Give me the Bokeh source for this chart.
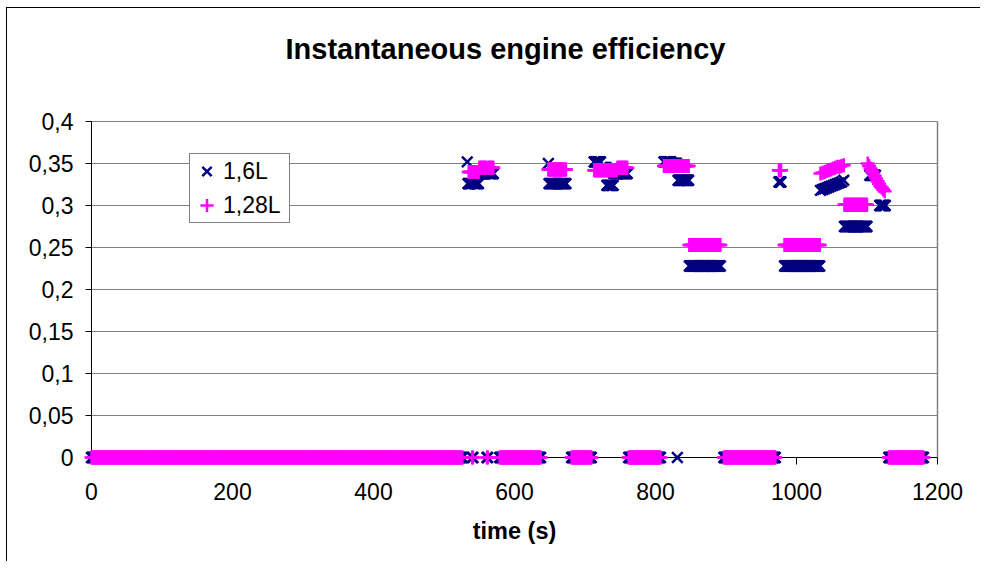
from bokeh.plotting import figure
from bokeh.models import Range1d, FixedTicker, Legend, LegendItem, Title
from bokeh.embed import file_html
from bokeh.resources import INLINE

# ---------------- chart texts ----------------
TITLE = "Instantaneous engine efficiency"
X_LABEL = "time (s)"
NAME_A = "1,6L"
NAME_B = "1,28L"

X_TICKS = [0, 200, 400, 600, 800, 1000, 1200]
X_TICK_LABELS = ["0", "200", "400", "600", "800", "1000", "1200"]
Y_TICKS = [0, 0.05, 0.1, 0.15, 0.2, 0.25, 0.3, 0.35, 0.4]
Y_TICK_LABELS = ["0", "0,05", "0,1", "0,15", "0,2", "0,25", "0,3", "0,35", "0,4"]

# ---------------- data (1 sample per second) ----------------
# runs of constant efficiency: (first second, last second, efficiency)
RUNS_A = [
    (0, 526, 0.0),
    (533, 533, 0.352),
    (534, 539, 0.326),
    (540, 541, 0.0),
    (542, 549, 0.326),
    (550, 560, 0.338),
    (561, 562, 0.0),
    (563, 570, 0.338),
    (579, 637, 0.0),
    (648, 648, 0.35),
    (649, 673, 0.326),
    (681, 709, 0.0),
    (713, 722, 0.352),
    (723, 730, 0.345),
    (731, 740, 0.324),
    (741, 760, 0.338),
    (762, 807, 0.0),
    (812, 822, 0.352),
    (823, 830, 0.35),
    (831, 831, 0.0),
    (832, 847, 0.33),
    (848, 892, 0.228),
    (897, 970, 0.0),
    (975, 978, 0.328),
    (983, 1033, 0.228),
    (1068, 1100, 0.275),
    (1104, 1112, 0.336),
    (1118, 1126, 0.30),
    (1131, 1180, 0.0),
]
RUNS_B = [
    (0, 526, 0.0),
    (535, 539, 0.34),
    (540, 541, 0.0),
    (542, 549, 0.34),
    (550, 560, 0.345),
    (561, 562, 0.0),
    (563, 570, 0.345),
    (579, 637, 0.0),
    (648, 673, 0.343),
    (681, 709, 0.0),
    (713, 745, 0.342),
    (746, 760, 0.345),
    (762, 807, 0.0),
    (812, 847, 0.347),
    (848, 892, 0.253),
    (897, 970, 0.0),
    (975, 978, 0.342),
    (983, 1033, 0.253),
    (1068, 1100, 0.301),
    (1131, 1180, 0.0),
]
# points read one by one on the sloped parts
PTS_A_T = [1034, 1037, 1040, 1043, 1046, 1049, 1052, 1055, 1058, 1061, 1064, 1067]
PTS_A_V = [0.318, 0.319, 0.320, 0.321, 0.322, 0.323, 0.324, 0.325, 0.326, 0.327, 0.328, 0.330]
PTS_B_T = [1034, 1037, 1040, 1043, 1046, 1049, 1052, 1055, 1058, 1061, 1064, 1067,
           1101, 1103, 1105, 1107, 1109, 1111, 1113, 1115, 1117, 1119, 1121, 1123, 1125]
PTS_B_V = [0.338, 0.339, 0.340, 0.341, 0.342, 0.343, 0.344, 0.345, 0.346, 0.346, 0.347, 0.348,
           0.350, 0.347, 0.344, 0.341, 0.338, 0.335, 0.332, 0.329, 0.326, 0.323, 0.321, 0.319, 0.317]


def expand(runs, pt_t, pt_v):
    pairs = []
    for first, last, val in runs:
        for s in range(first, last + 1):
            pairs.append((s, val))
    pairs += list(zip(pt_t, pt_v))
    pairs.sort()
    return [a for a, _ in pairs], [b for _, b in pairs]


tA, vA = expand(RUNS_A, PTS_A_T, PTS_A_V)
tB, vB = expand(RUNS_B, PTS_B_T, PTS_B_V)

# ---------------- layout ----------------
X0, X1 = X_TICKS[0], X_TICKS[-1]
Y0, Y1 = Y_TICKS[0], Y_TICKS[-1]
INNER_W, INNER_H = 846, 336          # plot-area size in px
PAD_L, PAD_R, PAD_B, PAD_T = 12, 12, 12, 2
SX = (X1 - X0) / INNER_W
SY = (Y1 - Y0) / INNER_H
FONT = "Liberation Sans"
GRID = "#808080"
NAVY = "#000080"
MAGENTA = "#FF00FF"
W, H = 981, 562
BL, BT = 79, 119
FW, FH = INNER_W + PAD_L + PAD_R, INNER_H + PAD_B + PAD_T

p = figure(
    frame_width=FW,
    frame_height=FH,
    x_range=Range1d(X0 - PAD_L * SX, X1 + PAD_R * SX),
    y_range=Range1d(Y0 - PAD_B * SY, Y1 + PAD_T * SY),
    output_backend="svg",
    toolbar_location=None,
    min_border_left=BL,
    min_border_right=W - BL - FW,
    min_border_top=BT,
    min_border_bottom=H - BT - FH,
    background_fill_color="white",
    border_fill_color=None,
)
# outer chart-area border (left and top edges; the others fall outside the window)
p.styles = {
    "background": "linear-gradient(#000,#000) 6px 7px / 1px 554px no-repeat, "
                  "linear-gradient(#000,#000) 6px 7px / 974px 1px no-repeat, #fff",
}
p.outline_line_color = None
p.xgrid.visible = False
p.ygrid.visible = False

# title (the empty second line lifts it up inside its panel)
p.title = Title(text=TITLE + "\n", align="left", offset=206, text_font=FONT,
                text_font_size="29px", text_font_style="bold", text_color="black",
                standoff=46)

# axes: only labels, lines drawn as glyphs below
for ax in (p.xaxis, p.yaxis):
    ax.axis_line_color = None
    ax.major_tick_line_color = None
    ax.minor_tick_line_color = None
    ax.major_tick_out = 0
    ax.major_tick_in = 0
    ax.minor_tick_out = 0
    ax.minor_tick_in = 0
    ax.major_label_text_font = FONT
    ax.major_label_text_font_size = "23px"
    ax.major_label_text_color = "black"

p.xaxis.ticker = FixedTicker(ticks=X_TICKS)
p.xaxis.major_label_overrides = dict(zip(X_TICKS, X_TICK_LABELS))
p.xaxis.major_label_standoff = 13
p.xaxis.axis_label = X_LABEL
p.xaxis.axis_label_text_font = FONT
p.xaxis.axis_label_text_font_size = "23.5px"
p.xaxis.axis_label_text_font_style = "bold"
p.xaxis.axis_label_text_color = "black"
p.xaxis.axis_label_standoff = 15

p.yaxis.ticker = FixedTicker(ticks=Y_TICKS)
p.yaxis.major_label_overrides = dict(zip(Y_TICKS, Y_TICK_LABELS))
p.yaxis.major_label_standoff = 6

# gridlines and plot-area border
gy = Y_TICKS[1:]
p.segment(x0=[X0] * len(gy), x1=[X1] * len(gy), y0=gy, y1=gy, line_color=GRID, line_width=1)
p.segment(x0=[X1], x1=[X1], y0=[Y0], y1=[Y1], line_color=GRID, line_width=1.5)
# axis lines and ticks
p.segment(x0=[X0], x1=[X0], y0=[Y0], y1=[Y1], line_color="black", line_width=1)
p.segment(x0=[X0], x1=[X1], y0=[Y0], y1=[Y0], line_color="black", line_width=1)
p.segment(x0=[X0 - 6 * SX] * len(Y_TICKS), x1=[X0] * len(Y_TICKS), y0=Y_TICKS, y1=Y_TICKS,
          line_color="black", line_width=1)
p.segment(x0=X_TICKS, x1=X_TICKS, y0=[Y0] * len(X_TICKS), y1=[Y0 - 7 * SY] * len(X_TICKS),
          line_color="black", line_width=1)

# data
rA = p.scatter(tA, vA, marker="x", size=15, line_color=NAVY, line_width=2.5)
rB = p.scatter(tB, vB, marker="cross", size=14, line_color=MAGENTA, line_width=2.5)

legend = Legend(
    items=[LegendItem(label=NAME_A, renderers=[rA]), LegendItem(label=NAME_B, renderers=[rB])],
    location=(110, 246),
    label_text_font=FONT,
    label_text_font_size="23px",
    label_text_color="black",
    glyph_width=33,
    glyph_height=34,
    label_height=34,
    label_width=66,
    label_standoff=0,
    spacing=0,
    padding=0,
    margin=0,
    border_line_color="black",
    border_line_width=1,
    background_fill_color="white",
    background_fill_alpha=1.0,
)
p.add_layout(legend, "center")

open("out.html", "w").write(file_html(p, INLINE))
